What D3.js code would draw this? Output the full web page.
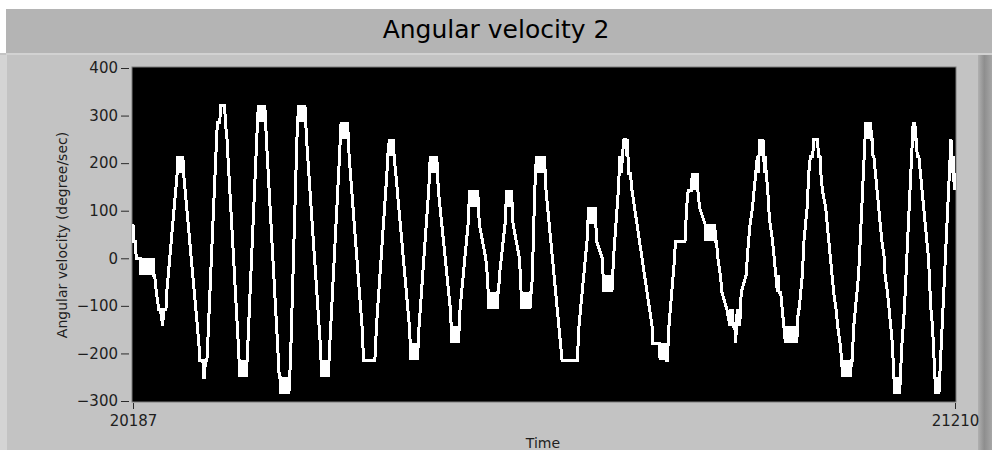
<!DOCTYPE html>
<html>
<head>
<meta charset="utf-8">
<script src="https://cdn.jsdelivr.net/npm/d3@7/dist/d3.min.js"></script>
<style>
  html, body { margin: 0; padding: 0; background: #ffffff; }
  svg { display: block; }
  text { font-family: "DejaVu Sans", sans-serif; }
</style>
</head>
<body>
<svg id="chart" width="992" height="450"></svg>
<script>
// Chart texts
const chartTitle = "Angular velocity 2";
const yAxisTitle = "Angular velocity (degree/sec)";
const xAxisTitle = "Time";

// Axis settings
const timeRange = [20187, 21210];
const velocityRange = [-300, 400];
const yTickValues = [-300, -200, -100, 0, 100, 200, 300, 400];
const xTickValues = [20187, 21210];

// Sampled angular velocity: [time, degree/sec]
const trace = [
  [20187,71.4],[20188,35.7],[20190,35.7],[20191,0],[20196,0],
  [20197,-35.7],[20198,0],[20199,-35.7],[20200,0],[20201,-35.7],[20202,0],[20203,-35.7],[20204,0],[20205,-35.7],[20206,0],[20207,-35.7],[20208,0],[20209,-35.7],[20210,0],[20211,-35.7],[20212,0],[20213,-35.7],[20214,-35.7],
  [20216,-71.4],[20219,-107.1],[20221,-107.1],[20224,-142.9],[20225,-107.1],[20228,-107.1],[20229,-71.4],
  [20242,178.6],
  [20243,214.3],[20244,178.6],[20245,214.3],[20246,178.6],[20247,214.3],[20248,178.6],[20249,214.3],[20250,178.6],
  [20269,-178.6],[20270,-214.3],[20274,-214.3],[20275,-250],[20276,-250],[20277,-214.3],[20279,-214.3],[20280,-178.6],
  [20291,250],[20292,285.7],[20295,285.7],[20296,321.4],[20301,321.4],[20302,285.7],[20304,250],
  [20318,-178.6],[20319,-214.3],
  [20320,-250],[20321,-214.3],[20322,-250],[20323,-214.3],[20324,-250],[20325,-214.3],[20326,-250],[20327,-214.3],[20328,-250],[20329,-214.3],
  [20330,-178.6],
  [20341,250],[20342,285.7],
  [20343,321.4],[20344,285.7],[20345,321.4],[20346,285.7],[20347,321.4],[20348,285.7],[20349,321.4],[20350,285.7],[20351,321.4],
  [20352,285.7],[20353,250],
  [20368,-214.3],[20369,-250],
  [20370,-250],[20371,-285.7],[20372,-250],[20373,-285.7],[20374,-250],[20375,-285.7],[20376,-250],[20377,-285.7],[20378,-250],[20379,-285.7],[20380,-250],[20381,-285.7],
  [20382,-250],[20383,-214.3],
  [20391,250],[20392,285.7],
  [20393,321.4],[20394,285.7],[20395,321.4],[20396,285.7],[20397,321.4],[20398,285.7],[20399,321.4],[20400,285.7],[20401,321.4],[20402,285.7],
  [20403,250],
  [20420,-178.6],[20421,-214.3],
  [20422,-250],[20423,-214.3],[20424,-250],[20425,-214.3],[20426,-250],[20427,-214.3],[20428,-250],[20429,-214.3],[20430,-250],[20431,-214.3],
  [20432,-178.6],
  [20444,214.3],[20445,250],
  [20446,285.7],[20447,250],[20448,285.7],[20449,250],[20450,285.7],[20451,250],[20452,285.7],[20453,250],[20454,285.7],[20455,250],
  [20456,214.3],
  [20472,-142.9],[20473,-178.6],[20474,-214.3],[20488,-214.3],[20489,-178.6],[20490,-142.9],
  [20503,178.6],[20504,214.3],[20506,250],[20508,214.3],[20509,250],[20510,214.3],[20511,250],[20512,214.3],[20514,178.6],
  [20531,-142.9],[20532,-178.6],
  [20533,-214.3],[20534,-178.6],[20535,-214.3],[20536,-178.6],[20537,-214.3],[20538,-178.6],[20539,-214.3],[20540,-178.6],[20541,-214.3],
  [20542,-178.6],[20543,-142.9],
  [20555,142.9],[20556,178.6],
  [20557,214.3],[20558,178.6],[20559,214.3],[20560,178.6],[20561,214.3],[20562,178.6],[20563,214.3],[20564,178.6],[20565,214.3],[20566,178.6],
  [20567,142.9],
  [20582,-107.1],[20583,-142.9],
  [20584,-178.6],[20585,-142.9],[20586,-178.6],[20587,-142.9],[20588,-178.6],[20589,-142.9],[20590,-178.6],[20591,-142.9],[20592,-178.6],[20593,-142.9],
  [20594,-107.1],
  [20604,71.4],[20605,107.1],
  [20606,142.9],[20607,107.1],[20608,142.9],[20609,107.1],[20610,142.9],[20611,107.1],[20612,142.9],[20613,107.1],[20614,142.9],[20615,107.1],[20616,142.9],
  [20617,107.1],[20618,71.4],
  [20626,0],[20628,-35.7],[20629,-71.4],
  [20630,-107.1],[20631,-71.4],[20632,-107.1],[20633,-71.4],[20634,-107.1],[20635,-71.4],[20636,-107.1],[20637,-71.4],[20638,-107.1],[20639,-71.4],[20640,-107.1],[20641,-71.4],
  [20642,-71.4],[20643,-35.7],
  [20650,71.4],[20651,107.1],
  [20652,142.9],[20653,107.1],[20654,142.9],[20655,107.1],[20656,142.9],[20657,107.1],[20658,142.9],
  [20659,107.1],[20660,71.4],
  [20668,0],[20669,-35.7],[20670,-71.4],
  [20671,-107.1],[20672,-71.4],[20673,-107.1],[20674,-71.4],[20675,-107.1],[20676,-71.4],[20677,-107.1],[20678,-71.4],[20679,-107.1],[20680,-71.4],[20681,-107.1],[20682,-71.4],
  [20683,-71.4],[20684,-35.7],
  [20687,142.9],[20688,178.6],
  [20689,214.3],[20690,178.6],[20691,214.3],[20692,178.6],[20693,214.3],[20694,178.6],[20695,214.3],[20696,178.6],[20697,214.3],[20698,178.6],[20699,214.3],
  [20700,178.6],[20701,142.9],
  [20717,-142.9],[20719,-178.6],[20721,-214.3],[20740,-214.3],[20741,-178.6],[20742,-142.9],
  [20752,35.7],[20753,71.4],
  [20754,107.1],[20755,71.4],[20756,107.1],[20757,71.4],[20758,107.1],[20759,71.4],[20760,107.1],[20761,71.4],[20762,107.1],
  [20763,71.4],[20764,35.7],
  [20771,0],[20772,-35.7],
  [20773,-71.4],[20774,-35.7],[20775,-71.4],[20776,-35.7],[20777,-71.4],[20778,-35.7],[20779,-71.4],[20780,-35.7],[20781,-71.4],[20782,-35.7],[20783,-71.4],
  [20784,-35.7],[20785,0],
  [20791,142.9],[20792,178.6],[20793,214.3],[20795,178.6],[20796,214.3],[20798,250],[20800,250],[20801,214.3],[20802,250],[20803,214.3],[20804,178.6],[20806,178.6],[20808,142.9],
  [20833,-142.9],[20834,-178.6],[20842,-178.6],
  [20843,-214.3],[20844,-178.6],[20845,-214.3],[20846,-178.6],[20847,-214.3],[20848,-178.6],[20849,-214.3],[20850,-178.6],[20851,-214.3],[20852,-214.3],
  [20853,-178.6],[20854,-142.9],
  [20861,0],[20862,35.7],[20874,35.7],[20875,71.4],[20876,107.1],[20878,142.9],[20882,142.9],
  [20883,178.6],[20884,142.9],[20885,178.6],[20886,142.9],[20887,178.6],[20888,142.9],[20889,178.6],
  [20890,142.9],[20892,107.1],[20899,71.4],
  [20900,35.7],[20901,71.4],[20902,35.7],[20903,71.4],[20904,35.7],[20905,71.4],[20906,35.7],[20907,71.4],[20908,35.7],[20909,71.4],[20910,35.7],[20911,71.4],[20912,35.7],
  [20913,35.7],[20915,0],[20918,-35.7],[20920,-71.4],[20926,-107.1],
  [20930,-142.9],[20931,-107.1],[20932,-142.9],[20933,-107.1],[20934,-142.9],[20936,-142.9],[20937,-178.6],[20938,-142.9],[20939,-107.1],[20940,-142.9],[20941,-107.1],[20942,-142.9],[20943,-107.1],
  [20944,-71.4],[20950,-35.7],[20953,35.7],[20955,71.4],[20958,107.1],[20960,142.9],[20962,178.6],[20964,214.3],
  [20965,178.6],[20966,214.3],[20967,250],[20968,214.3],[20969,250],[20970,214.3],[20971,250],[20972,214.3],[20973,178.6],[20974,214.3],[20975,178.6],
  [20977,142.9],[20978,107.1],[20980,71.4],[20983,35.7],[20985,0],[20987,-35.7],[20989,-71.4],[20990,-35.7],[20991,-71.4],[20993,-71.4],[20995,-107.1],[20997,-142.9],
  [20999,-178.6],[21000,-142.9],[21001,-178.6],[21002,-142.9],[21003,-178.6],[21004,-142.9],[21005,-178.6],[21006,-142.9],[21007,-178.6],[21008,-142.9],[21009,-178.6],[21010,-142.9],[21011,-178.6],[21012,-142.9],[21013,-178.6],
  [21014,-142.9],[21015,-107.1],
  [21016,-107.1],[21018,-71.4],[21020,-35.7],[21021,0],[21022,35.7],[21024,71.4],[21026,107.1],[21027,142.9],[21028,178.6],[21030,214.3],[21033,214.3],[21034,250],[21039,250],[21040,214.3],[21042,214.3],
  [21043,178.6],[21045,142.9],[21049,107.1],[21051,71.4],[21053,35.7],[21055,0],[21057,-35.7],[21059,-71.4],[21062,-107.1],[21064,-142.9],[21067,-178.6],[21069,-214.3],
  [21070,-250],[21071,-214.3],[21072,-250],[21073,-214.3],[21074,-250],[21075,-214.3],[21076,-250],[21077,-214.3],[21078,-250],[21079,-214.3],[21080,-250],[21081,-214.3],
  [21082,-214.3],[21083,-178.6],[21084,-142.9],[21086,-107.1],[21090,-35.7],[21092,35.7],[21094,107.1],[21096,178.6],[21098,250],
  [21099,285.7],[21100,250],[21101,285.7],[21102,250],[21103,285.7],[21104,250],[21105,285.7],[21106,250],
  [21107,250],[21108,214.3],[21109,214.3],[21111,178.6],[21113,142.9],[21115,107.1],[21117,71.4],[21119,35.7],[21122,0],[21123,-35.7],[21126,-71.4],[21128,-107.1],[21130,-142.9],[21132,-178.6],[21133,-214.3],[21134,-250],
  [21135,-285.7],[21136,-250],[21137,-285.7],[21138,-250],[21139,-285.7],[21140,-250],[21141,-285.7],
  [21142,-250],[21143,-214.3],[21144,-178.6],[21147,-107.1],[21149,-35.7],[21151,35.7],[21153,107.1],[21154,142.9],[21155,178.6],[21156,214.3],[21157,250],
  [21158,285.7],[21159,250],[21160,285.7],[21161,250],
  [21162,250],[21163,214.3],[21165,214.3],[21167,178.6],[21169,142.9],[21171,107.1],[21173,71.4],[21175,35.7],[21177,0],[21178,-35.7],[21179,-71.4],[21180,-107.1],[21182,-142.9],[21183,-178.6],[21184,-214.3],[21185,-250],
  [21186,-285.7],[21187,-250],[21188,-285.7],[21189,-250],[21190,-285.7],
  [21191,-250],[21192,-214.3],[21194,-142.9],[21196,-71.4],[21198,0],[21200,71.4],[21202,142.9],[21203,178.6],[21204,214.3],[21205,250],[21206,214.3],[21207,178.6],[21208,214.3],[21209,142.9],[21210,178.6]
];

// Layout
const W = 992, H = 450;
const plot = { left: 132, top: 67, right: 956, bottom: 402 };

const svg = d3.select("#chart");

// Window frame
svg.append("rect").attr("x", 0).attr("y", 0).attr("width", W).attr("height", H).attr("fill", "#ffffff");
svg.append("rect").attr("x", 0).attr("y", 53).attr("width", W).attr("height", H - 53).attr("fill", "#c3c3c3");
svg.append("rect").attr("x", 0).attr("y", 55).attr("width", 7).attr("height", H - 55).attr("fill", "#d4d4d4");
svg.append("rect").attr("x", 6).attr("y", 9).attr("width", W - 6).attr("height", 44).attr("fill", "#b4b4b4");
svg.append("rect").attr("x", 6).attr("y", 53).attr("width", W - 6).attr("height", 2).attr("fill", "#d2d2d2");

const edge = svg.append("defs").append("linearGradient").attr("id", "edge");
edge.append("stop").attr("offset", "0%").attr("stop-color", "#b0b0b0");
edge.append("stop").attr("offset", "45%").attr("stop-color", "#8e8e8e");
edge.append("stop").attr("offset", "100%").attr("stop-color", "#a6a6a6");
svg.append("rect").attr("x", 978).attr("y", 55).attr("width", 14).attr("height", H - 55).attr("fill", "url(#edge)");

// Title
svg.append("text")
  .attr("x", 496).attr("y", 38)
  .attr("text-anchor", "middle")
  .attr("font-size", 25)
  .attr("fill", "#000")
  .text(chartTitle);

// Scales
const x = d3.scaleLinear().domain(timeRange).range([133, 955]);
const y = d3.scaleLinear().domain(velocityRange).range([401, 68]);

// Plot background
svg.append("rect")
  .attr("x", plot.left).attr("y", plot.top)
  .attr("width", plot.right - plot.left).attr("height", plot.bottom - plot.top)
  .attr("fill", "#000000")
  .attr("stroke", "#7c7c7c").attr("stroke-width", 1);

svg.append("clipPath").attr("id", "plotClip")
  .append("rect")
  .attr("x", plot.left).attr("y", plot.top)
  .attr("width", plot.right - plot.left).attr("height", plot.bottom - plot.top);

// Trace, drawn aliased like an instrument display
const line = d3.line().x(d => x(d[0])).y(d => y(d[1]));
svg.append("path")
  .datum(trace)
  .attr("clip-path", "url(#plotClip)")
  .attr("d", line)
  .attr("fill", "none")
  .attr("stroke", "#ffffff")
  .attr("stroke-width", 3)
  .attr("stroke-linejoin", "miter")
  .attr("shape-rendering", "crispEdges");

// Y axis
const yAxis = svg.append("g")
  .attr("transform", "translate(129,0)")
  .call(d3.axisLeft(y).tickValues(yTickValues).tickSize(8).tickPadding(3).tickFormat(d3.format("d")));
yAxis.select(".domain").remove();
yAxis.selectAll("line").attr("stroke", "#2a2a2a");
yAxis.selectAll("text").attr("font-size", 15).attr("fill", "#1e1e1e").style("font-family", "DejaVu Sans");

// X axis
const xAxis = svg.append("g")
  .attr("transform", "translate(0,403)")
  .call(d3.axisBottom(x).tickValues(xTickValues).tickSize(6).tickPadding(6).tickFormat(d3.format("d")));
xAxis.select(".domain").remove();
xAxis.selectAll("line").attr("stroke", "#2a2a2a");
xAxis.selectAll("text").attr("font-size", 15).attr("fill", "#1e1e1e").style("font-family", "DejaVu Sans");

// Axis titles
svg.append("text")
  .attr("transform", "translate(67,235) rotate(-90)")
  .attr("text-anchor", "middle")
  .attr("font-size", 14)
  .attr("fill", "#1e1e1e")
  .text(yAxisTitle);

svg.append("text")
  .attr("x", 543).attr("y", 448)
  .attr("text-anchor", "middle")
  .attr("font-size", 14)
  .attr("fill", "#1e1e1e")
  .text(xAxisTitle);
</script>
</body>
</html>
